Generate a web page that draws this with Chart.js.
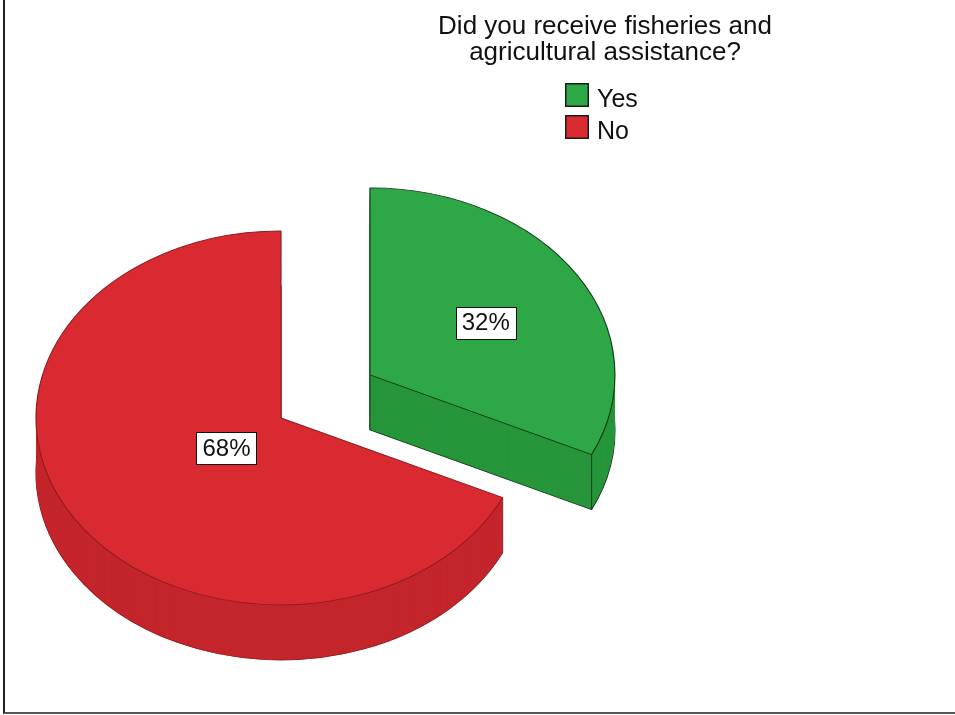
<!DOCTYPE html>
<html>
<head>
<meta charset="utf-8">
<title>Fisheries and agricultural assistance</title>
<script src="https://cdn.jsdelivr.net/npm/chart.js@4.4.1/dist/chart.umd.min.js"></script>
<style>
  html, body { margin: 0; padding: 0; background: #fff; }
  #wrap { position: relative; width: 955px; height: 715px; }
  #frame {
    position: absolute; left: 3px; top: 0; width: 952px; height: 712px;
    border-left: 2px solid #222; border-bottom: 2px solid #555;
    pointer-events: none;
  }
</style>
</head>
<body>
<div id="wrap">
  <canvas id="pie" width="955" height="715"></canvas>
  <div id="frame"></div>
</div>
<script>
const categories = ['Yes', 'No'];
const percents = [32, 68];
const titleLines = ['Did you receive fisheries and', 'agricultural assistance?'];

const topColors = ['#2ea846', '#d92a31'];
const sideColors = ['#27963b', '#c4262c'];
const edgeColors = ['#103c16', '#8e1b20'];

const FONT = '"Liberation Sans", Arial, sans-serif';

// tilts the flat pie into an elliptical disc with a side wall,
// pulling selected slices out along their middle angle
const solidPie = {
  id: 'solidPie',
  beforeDatasetsDraw(chart, args, o) {
    const ctx = chart.ctx;
    const arcs = chart.getDatasetMeta(0).data;
    const R = arcs[0].outerRadius;
    const view = { sx: o.rx / R, sy: o.ry / R, x0: arcs[0].x, y0: arcs[0].y };
    view.map = (px, py, dz) => [o.cx + (px - view.x0) * view.sx, o.cy + dz + (py - view.y0) * view.sy];
    view.shift = (arc, i) => {
      const mid = (arc.startAngle + arc.endAngle) / 2;
      const d = (o.explode[i] || 0) * arc.outerRadius;
      return [Math.cos(mid) * d, Math.sin(mid) * d];
    };
    chart.$view = view;

    const paint = (arc, i, extra, dz) => {
      const saved = arc.options;
      const [ox, oy] = view.shift(arc, i);
      arc.options = Object.assign({}, saved, extra);
      ctx.save();
      ctx.translate(o.cx, o.cy + dz);
      ctx.scale(view.sx, view.sy);
      ctx.translate(ox - view.x0, oy - view.y0);
      arc.draw(ctx);
      ctx.restore();
      arc.options = saved;
    };

    // side wall: stacked darker copies, the lowest one outlined
    for (let dz = o.depth; dz > 0; dz--) {
      arcs.forEach((arc, i) => paint(arc, i, {
        backgroundColor: sideColors[i],
        borderWidth: dz === o.depth ? arc.options.borderWidth : 0
      }, dz));
    }

    // vertical edges on the visible side of each slice
    arcs.forEach((arc, i) => {
      const [ox, oy] = view.shift(arc, i);
      const ax = arc.x + ox, ay = arc.y + oy;
      const r = arc.outerRadius;
      const s = arc.startAngle, e = arc.endAngle;
      const pts = [];
      [s, e].forEach(a => {
        if (Math.sin(a) > 0.01) pts.push([ax + Math.cos(a) * r, ay + Math.sin(a) * r]);
      });
      if (Math.cos(e) > 0.01 || -Math.cos(s) > 0.01) pts.push([ax, ay]);
      ctx.save();
      ctx.strokeStyle = edgeColors[i];
      ctx.lineWidth = 1;
      pts.forEach(([px, py]) => {
        const [X, Y] = view.map(px, py, 0);
        ctx.beginPath();
        ctx.moveTo(X, Y);
        ctx.lineTo(X, Y + o.depth);
        ctx.stroke();
      });
      ctx.restore();
    });

    // top faces
    arcs.forEach((arc, i) => paint(arc, i, {}, 0));
    return false;
  },
  afterDraw(chart, args, o) {
    const ctx = chart.ctx;
    const view = chart.$view;
    const arcs = chart.getDatasetMeta(0).data;
    const total = percents.reduce((a, b) => a + b, 0);

    // percentage boxes at each slice's centroid
    ctx.save();
    ctx.font = '24px ' + FONT;
    arcs.forEach((arc, i) => {
      const [ox, oy] = view.shift(arc, i);
      const a = arc.circumference;
      const mid = (arc.startAngle + arc.endAngle) / 2;
      const dist = 4 * arc.outerRadius * Math.sin(a / 2) / (3 * a);
      const [X, Y] = view.map(arc.x + ox + Math.cos(mid) * dist, arc.y + oy + Math.sin(mid) * dist, o.labelDrop);
      const text = Math.round(percents[i] / total * 100) + '%';
      const w = Math.round(ctx.measureText(text).width + 12);
      const h = 32;
      const bx = Math.round(X - w / 2) + 0.5, by = Math.round(Y - h / 2) + 0.5;
      ctx.fillStyle = '#fff';
      ctx.fillRect(bx, by, w, h);
      ctx.strokeStyle = '#111';
      ctx.lineWidth = 1;
      ctx.strokeRect(bx, by, w, h);
      ctx.fillStyle = '#111';
      ctx.textAlign = 'center';
      ctx.textBaseline = 'middle';
      ctx.fillText(text, X, Y + 1);
    });

    // legend column under the title
    const lg = o.legend;
    ctx.font = '25px ' + FONT;
    ctx.textAlign = 'left';
    ctx.textBaseline = 'alphabetic';
    categories.forEach((name, i) => {
      const y = lg.y + i * lg.step;
      ctx.fillStyle = topColors[i];
      ctx.fillRect(lg.x, y, lg.box, lg.box);
      ctx.strokeStyle = '#1c1c1c';
      ctx.lineWidth = 1.5;
      ctx.strokeRect(lg.x + 0.75, y + 0.75, lg.box - 1.5, lg.box - 1.5);
      ctx.fillStyle = '#111';
      ctx.fillText(name, lg.x + lg.box + 8, y + lg.box);
    });
    ctx.restore();
  }
};

new Chart(document.getElementById('pie'), {
  type: 'pie',
  data: {
    labels: categories,
    datasets: [{
      data: percents,
      backgroundColor: topColors,
      borderColor: edgeColors,
      borderWidth: 1.5
    }]
  },
  options: {
    responsive: false,
    animation: false,
    events: [],
    layout: { padding: { left: 255 } },
    plugins: {
      legend: { display: false },
      tooltip: { enabled: false },
      title: {
        display: true,
        text: titleLines,
        color: '#111',
        font: { family: FONT, size: 26, weight: 'normal', lineHeight: 1.0 },
        padding: { top: 14, bottom: 0 }
      },
      solidPie: {
        cx: 281, cy: 418, rx: 245, ry: 187, depth: 55, labelDrop: 4,
        explode: [0.43, 0],
        legend: { x: 565, y: 83, box: 24, step: 32 }
      }
    }
  },
  plugins: [solidPie]
});
</script>
</body>
</html>
